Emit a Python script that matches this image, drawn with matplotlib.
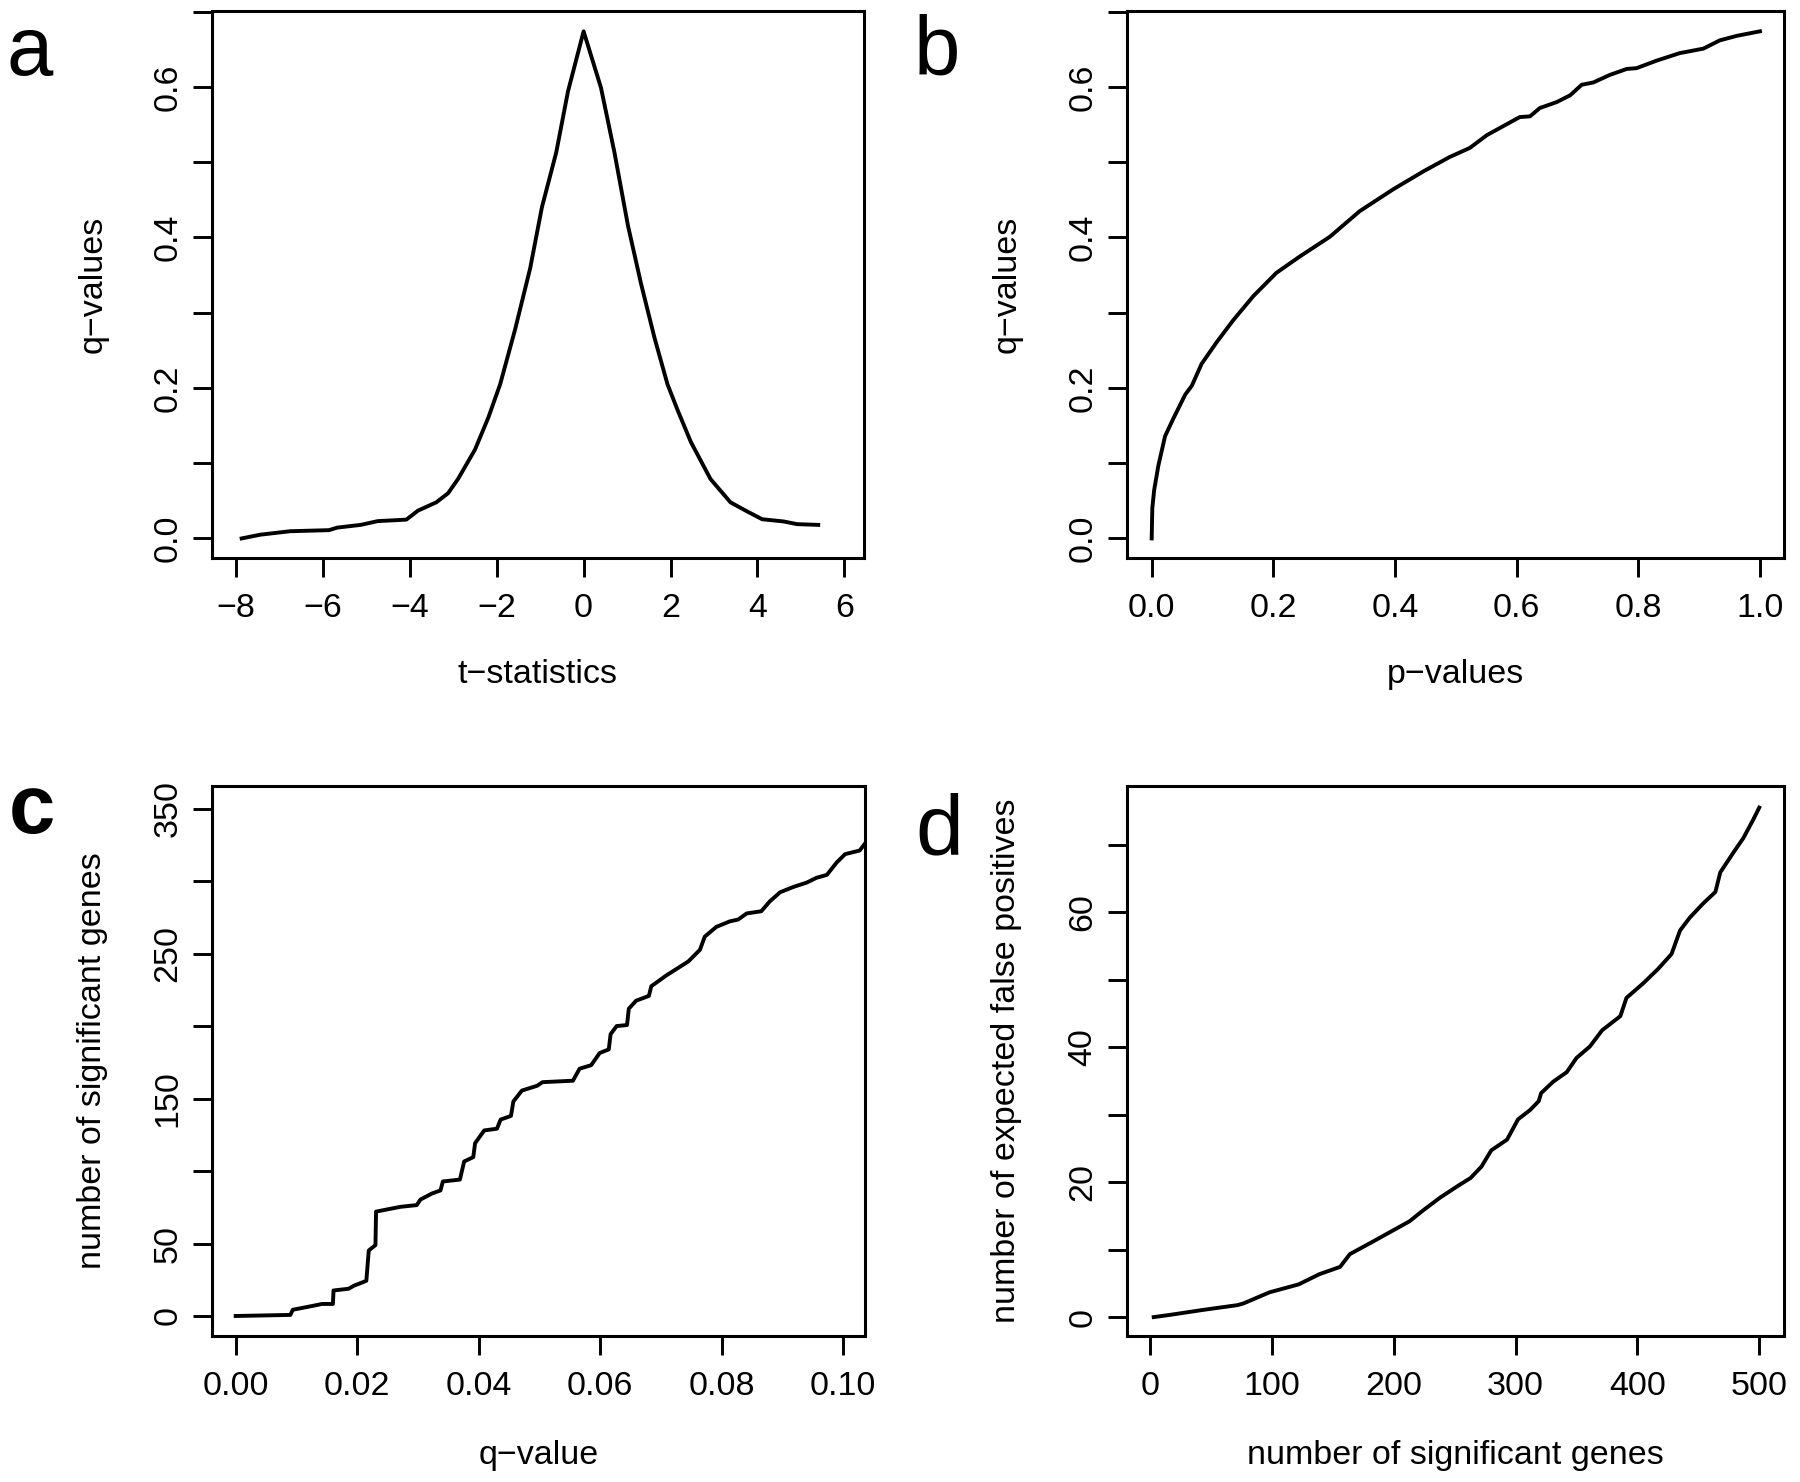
import matplotlib
matplotlib.use("Agg")
import matplotlib.pyplot as plt
import numpy as np

plt.rcParams['font.family'] = ['Liberation Sans', 'DejaVu Sans']

# ---- panel a: q-values vs t-statistics
t_stat = [-7.87, -7.44, -6.75, -5.86, -5.67, -5.13, -4.74, -4.08, -3.81, -3.39,
          -3.12, -2.89, -2.50, -2.19, -1.92, -1.58, -1.23, -0.96, -0.63, -0.36,
          0.0, 0.40, 0.71, 1.02, 1.32, 1.63, 1.93, 2.16, 2.47, 2.92,
          3.38, 3.76, 4.11, 4.60, 4.91, 5.40]
q_a = [0.0, 0.005, 0.0096, 0.011, 0.0144, 0.018, 0.023, 0.025, 0.037, 0.048,
       0.060, 0.079, 0.118, 0.161, 0.205, 0.277, 0.359, 0.440, 0.513, 0.594,
       0.674, 0.599, 0.513, 0.416, 0.339, 0.267, 0.205, 0.171, 0.128, 0.079,
       0.048, 0.036, 0.0255, 0.0226, 0.019, 0.018]

# ---- panel b: q-values vs p-values
p_vals = [0, 0.001, 0.004, 0.011, 0.022, 0.036, 0.055, 0.066, 0.082, 0.107,
          0.134, 0.167, 0.205, 0.244, 0.293, 0.342, 0.397, 0.447, 0.490, 0.523,
          0.551, 0.578, 0.605, 0.622, 0.638, 0.666, 0.688, 0.707, 0.726, 0.753,
          0.781, 0.797, 0.830, 0.868, 0.907, 0.934, 0.962, 1.0]
q_b = [0.0, 0.040, 0.064, 0.097, 0.136, 0.160, 0.191, 0.203, 0.232, 0.261,
       0.290, 0.322, 0.353, 0.375, 0.401, 0.435, 0.464, 0.488, 0.507, 0.519,
       0.536, 0.548, 0.560, 0.561, 0.572, 0.580, 0.589, 0.603, 0.606, 0.616,
       0.624, 0.625, 0.635, 0.645, 0.651, 0.662, 0.668, 0.674]

# ---- panel c: number of significant genes vs q-value cutoff
q_cut = [0.0, 0.0090, 0.0094, 0.0133, 0.0142, 0.0160, 0.0161, 0.0186, 0.0194, 0.0205,
         0.0215, 0.0219, 0.0230, 0.0231, 0.0271, 0.0298, 0.0304, 0.0323, 0.0337, 0.0341,
         0.0369, 0.0376, 0.0391, 0.0394, 0.0409, 0.0430, 0.0436, 0.0453, 0.0457, 0.0471,
         0.0496, 0.0505, 0.0555, 0.0566, 0.0585, 0.0599, 0.0614, 0.0617, 0.0627, 0.0644,
         0.0647, 0.0659, 0.0680, 0.0684, 0.0709, 0.0745, 0.0764, 0.0772, 0.0791, 0.0813,
         0.0827, 0.0841, 0.0865, 0.0879, 0.0896, 0.0918, 0.0940, 0.0956, 0.0973, 0.0989,
         0.1003, 0.1027, 0.1036]
n_sig = [0, 0.75, 4.3, 7.5, 8.3, 8.3, 17.6, 18.8, 20.8, 22.6,
         24.3, 45.2, 48.9, 72, 75.3, 76.5, 80.3, 84.5, 86.6, 92.8,
         94.1, 106.6, 109.6, 119.2, 128, 129.2, 135.5, 138, 148, 155.5,
         158.8, 161.3, 162.3, 170.6, 173, 181.4, 183.9, 194.4, 200, 200.7,
         212, 217.5, 220.8, 227.5, 235, 244.6, 252.6, 261.7, 268.4, 272.2,
         273.5, 277.7, 279.2, 286, 292.3, 296, 299, 302.3, 304.3, 312.8,
         318.6, 321.1, 326.1]

# ---- panel d: expected false positives vs number of significant genes
n_genes = [3, 16, 44, 72, 77, 98, 122, 139, 156, 164,
           183, 202, 213, 224, 238, 254, 263, 272, 280, 293,
           302, 312, 319, 321, 331, 342, 350, 361, 371, 386,
           391, 405, 417, 428, 435, 443, 454, 464, 468, 479,
           487, 495, 500]
false_pos = [0, 0.32, 1.08, 1.78, 2.05, 3.67, 4.85, 6.36, 7.44, 9.33,
             11.2, 13.1, 14.2, 15.8, 17.7, 19.6, 20.6, 22.3, 24.7, 26.3,
             29.3, 30.7, 32.0, 33.2, 34.9, 36.3, 38.4, 40.1, 42.5, 44.6,
             47.3, 49.5, 51.6, 53.8, 57.3, 59.2, 61.3, 63.0, 65.9, 68.9,
             71.0, 73.7, 75.5]

# tick specs
a_xticks = [-8, -6, -4, -2, 0, 2, 4, 6]
q_yticks = [0.0, 0.1, 0.2, 0.3, 0.4, 0.5, 0.6, 0.7]
q_ylabels = ["0.0", "", "0.2", "", "0.4", "", "0.6", ""]
b_xticks = [0.0, 0.2, 0.4, 0.6, 0.8, 1.0]
b_xlabels = ["0.0", "0.2", "0.4", "0.6", "0.8", "1.0"]
c_xticks = [0.00, 0.02, 0.04, 0.06, 0.08, 0.10]
c_xlabels = ["0.00", "0.02", "0.04", "0.06", "0.08", "0.10"]
c_yticks = [0, 50, 100, 150, 200, 250, 300, 350]
c_ylabels = ["0", "50", "", "150", "", "250", "", "350"]
d_xticks = [0, 100, 200, 300, 400, 500]
d_yticks = [0, 10, 20, 30, 40, 50, 60, 70]
d_ylabels = ["0", "", "20", "", "40", "", "60", ""]

W, H = 1800, 1482
fig = plt.figure(figsize=(W / 100, H / 100), dpi=100)

FS = 24.5
LW = 2.8


def make_ax(l, r, t, b):
    return fig.add_axes([l / W, 1 - b / H, (r - l) / W, (b - t) / H])


def style(ax, xlab, ylab, xl_y=-0.213, yl_x=-0.183):
    for s in ax.spines.values():
        s.set_linewidth(2.2)
    ax.tick_params(axis='both', direction='out', length=13.5, width=2.1,
                   labelsize=FS, colors='black')
    ax.tick_params(axis='x', pad=12)
    ax.tick_params(axis='y', pad=7)
    for lab in ax.get_yticklabels():
        lab.set_rotation(90)
        lab.set_va('center')
    ax.set_xlabel(xlab, fontsize=FS, va='center')
    ax.set_ylabel(ylab, fontsize=FS, va='center')
    ax.xaxis.set_label_coords(0.5, xl_y)
    ax.yaxis.set_label_coords(yl_x, 0.5)


# panel a
axa = make_ax(212, 864, 11, 558)
axa.plot(t_stat, q_a, color='black', lw=LW, solid_joinstyle='round')
axa.set_xlim(-8.552, 6.453)
axa.set_ylim(-0.026, 0.701)
axa.set_xticks(a_xticks)
axa.set_xticklabels(["\u2212" + str(-v) if v < 0 else str(v) for v in a_xticks])
axa.set_yticks(q_yticks)
axa.set_yticklabels(q_ylabels)
style(axa, "t\u2212statistics", "q\u2212values")

# panel b
axb = make_ax(1127, 1784, 11, 558)
axb.plot(p_vals, q_b, color='black', lw=LW, solid_joinstyle='round')
axb.set_xlim(-0.0406, 1.0395)
axb.set_ylim(-0.026, 0.701)
axb.set_xticks(b_xticks)
axb.set_xticklabels(b_xlabels)
axb.set_yticks(q_yticks)
axb.set_yticklabels(q_ylabels)
style(axb, "p\u2212values", "q\u2212values")

# panel c
axc = make_ax(212, 865, 786, 1336)
axc.plot(q_cut, n_sig, color='black', lw=LW, solid_joinstyle='round')
axc.set_xlim(-0.0039, 0.10357)
axc.set_ylim(-13.8, 365.6)
axc.set_xticks(c_xticks)
axc.set_xticklabels(c_xlabels)
axc.set_yticks(c_yticks)
axc.set_yticklabels(c_ylabels)
style(axc, "q\u2212value", "number of significant genes", xl_y=-0.218)

# panel d
axd = make_ax(1127, 1784, 786, 1336)
axd.plot(n_genes, false_pos, color='black', lw=LW, solid_joinstyle='round')
axd.set_xlim(-18.9, 520.3)
axd.set_ylim(-2.8, 78.7)
axd.set_xticks(d_xticks)
axd.set_xticklabels([str(v) for v in d_xticks])
axd.set_yticks(d_yticks)
axd.set_yticklabels(d_ylabels)
style(axd, "number of significant genes", "number of expected false positives",
      xl_y=-0.218)

# panel letters
fig.text(6 / W, 1 - 75 / H, "a", fontsize=60, ha='left', va='baseline')
fig.text(914 / W, 1 - 75 / H, "b", fontsize=60, ha='left', va='baseline')
fig.text(9 / W, 1 - 833 / H, "c", fontsize=60, fontweight='bold', ha='left', va='baseline')
fig.text(915 / W, 1 - 854 / H, "d", fontsize=62, ha='left', va='baseline')

fig.savefig("out.png", dpi=100, facecolor='white')
